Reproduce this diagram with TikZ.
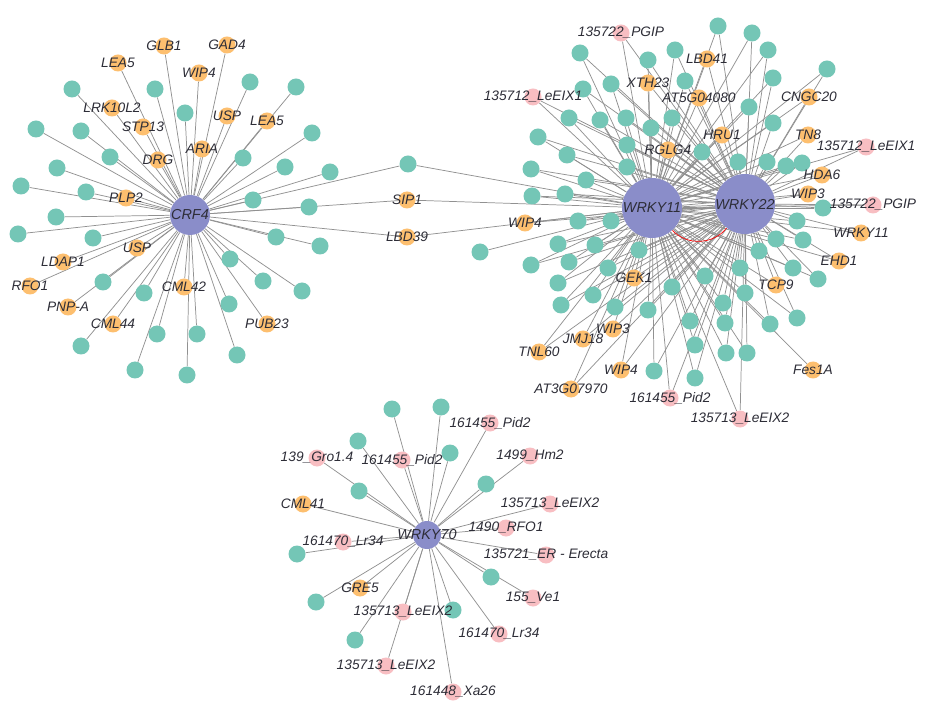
\documentclass[tikz,border=0pt]{standalone}
\usepackage{fontspec}
\setmainfont{Liberation Sans}
\usetikzlibrary{backgrounds}
\definecolor{tealc}{RGB}{116,198,182}
\definecolor{orangec}{RGB}{253,191,111}
\definecolor{pinkc}{RGB}{248,190,194}
\definecolor{hubc}{RGB}{138,141,201}
\definecolor{edgec}{RGB}{145,145,145}
\definecolor{textc}{RGB}{45,45,55}
\tikzset{
 dot/.style={circle, inner sep=0pt, minimum size=12.75pt, draw=none},
 tl/.style={dot, fill=tealc},
 og/.style={dot, fill=orangec},
 pk/.style={dot, fill=pinkc},
 hub/.style={circle, inner sep=0pt, draw=none, fill=hubc},
 lab/.style={text=textc, font=\fontsize{10.3}{12}\selectfont\itshape, inner sep=0pt},
 hublab/.style={text=textc, font=\fontsize{10.8}{12}\selectfont\itshape, inner sep=0pt},
 edge/.style={draw=edgec, line width=0.55pt},
}
\newcommand\lnode[4]{\node[#1,label={[lab]center:#4}] (#2) at (#3) {};}
\begin{document}
\begin{tikzpicture}[x=0.75pt,y=-0.75pt]
\useasboundingbox (0,0) rectangle (934,712);
% ---------- teal nodes ----------
\foreach \n/\x/\y in {c1/72/89,c2/155/89,c3/250/82,c4/296/87,c5/185/113,c6/36/129,c7/81/131,c8/312/133,c9/110/157,c10/243/158,c11/57/168,c12/285/167,c13/330/172,c14/21/186,c15/86/192,c16/253/200,c17/309/207,c18/56/217,c19/18/234,c20/93/238,c21/276/237,c22/320/246,c23/230/259,c24/103/282,c25/263/281,c26/302/291,c27/144/293,c28/229/304,c29/157/334,c30/197/334,c31/81/346,c32/237/355,c33/135/370,c34/187/375}
  \node[tl] (\n) at (\x,\y) {};
\node[tl] (ct) at (408,164) {};
\node[tl] (wl) at (480,252) {};
\foreach \n/\x/\y in {w1/580/53,w2/675/50,w3/648/60,w4/611/84,w5/685/81,w6/583/89,w7/718/26,w8/752/33,w9/768/50,w10/773/78,w11/827/69,w12/569/118,w13/600/120,w14/626/118,w15/672/118,w16/651/128,w17/538/137,w18/627/145,w19/567/155,w20/702/152,w21/531/169,w22/627/167,w23/586/180,w24/532/196,w25/565/194,w26/749/107,w27/773/123,w28/738/162,w29/767/162,w30/786/166,w31/802/163,w32/823/208,w33/797/221,w34/776/239,w35/803/240,w36/759/251,w37/793/268,w38/818/279,w39/740/268,w40/705/276,w41/745/293,w42/723/303,w43/797/318,w44/770/324,w45/690/321,w46/725/323,w47/695/345,w48/726/353,w49/747/353,w50/695/378,w51/578/221,w52/611/221,w53/558/244,w54/595/245,w55/531/265,w56/569/262,w57/608/268,w58/639/250,w59/558/283,w60/593/295,w61/561/305,w62/615/307,w63/648/310,w64/672/287,w65/654/371}
  \node[tl] (\n) at (\x,\y) {};
\foreach \n/\x/\y in {v1/392/409,v2/441/407,v3/358/441,v4/450/453,v5/359/491,v6/486/484,v7/297/554,v8/491/577,v9/316/602,v10/453/610,v11/355/640}
  \node[tl] (\n) at (\x,\y) {};
% ---------- labelled nodes, CRF4 cluster ----------
\lnode{og}{glb1}{164,46}{GLB1}
\lnode{og}{gad4}{227,45}{GAD4}
\lnode{og}{lea5a}{118,63}{LEA5}
\lnode{og}{wip4c}{199,73}{WIP4}
\lnode{og}{lrk}{112,108}{LRK10L2}
\lnode{og}{uspa}{227,116}{USP}
\lnode{og}{lea5b}{267,121}{LEA5}
\lnode{og}{stp13}{143,127}{STP13}
\lnode{og}{drg}{158,160}{DRG}
\lnode{og}{aria}{202,149}{ARIA}
\lnode{og}{plp2}{126,198}{PLP2}
\lnode{og}{uspb}{137,248}{USP}
\lnode{og}{ldap1}{63,262}{LDAP1}
\lnode{og}{rfo1}{30,286}{RFO1}
\lnode{og}{cml42}{184,287}{CML42}
\lnode{og}{pnpa}{68,307}{PNP-A}
\lnode{og}{cml44}{113,324}{CML44}
\lnode{og}{pub23}{267,324}{PUB23}
\lnode{og}{sip1}{407,200}{SIP1}
\lnode{og}{lbd39}{407,237}{LBD39}
% ---------- labelled nodes, WRKY11/22 cluster ----------
\lnode{pk}{pgipa}{621,33}{135722\_PGIP}
\lnode{og}{lbd41}{707,59}{LBD41}
\lnode{og}{xth23}{648,83}{XTH23}
\lnode{pk}{eix1a}{533,97}{135712\_LeEIX1}
\lnode{og}{at5g}{699,98}{AT5G04080}
\lnode{og}{cngc20}{809,97}{CNGC20}
\lnode{og}{hru1}{722,135}{HRU1}
\lnode{og}{tn8}{808,135}{TN8}
\lnode{pk}{eix1b}{866,147}{135712\_LeEIX1}
\lnode{og}{rglg4}{668,150}{RGLG4}
\lnode{og}{hda6}{822,175}{HDA6}
\lnode{og}{wip3a}{808,194}{WIP3}
\lnode{pk}{pgipb}{873,205}{135722\_PGIP}
\lnode{og}{wrky11o}{861,233}{WRKY11}
\lnode{og}{ehd1}{839,261}{EHD1}
\lnode{og}{tcp9}{776,285}{TCP9}
\lnode{og}{fes1a}{813,370}{Fes1A}
\lnode{pk}{eix2w}{740,419}{135713\_LeEIX2}
\lnode{pk}{pid2w}{670,398}{161455\_Pid2}
\lnode{og}{wip4b}{621,370}{WIP4}
\lnode{og}{at3g}{571,389}{AT3G07970}
\lnode{og}{tnl60}{539,352}{TNL60}
\lnode{og}{jmj18}{583,339}{JMJ18}
\lnode{og}{wip3b}{613,329}{WIP3}
\lnode{og}{gek1}{634,278}{GEK1}
\lnode{og}{wip4a}{525,223}{WIP4}
% ---------- labelled nodes, WRKY70 cluster ----------
\lnode{pk}{pid2a}{490,423}{161455\_Pid2}
\lnode{pk}{gro}{317,458}{139\_Gro1.4}
\lnode{pk}{pid2b}{402,460}{161455\_Pid2}
\lnode{pk}{hm2}{530,456}{1499\_Hm2}
\lnode{og}{cml41}{303,504}{CML41}
\lnode{pk}{eix2a}{550,504}{135713\_LeEIX2}
\lnode{pk}{rfo1v}{506,528}{1490\_RFO1}
\lnode{pk}{lr34a}{343,542}{161470\_Lr34}
\lnode{pk}{er}{546,555}{135721\_ER - Erecta}
\lnode{og}{gre5}{360,588}{GRE5}
\lnode{pk}{ve1}{533,598}{155\_Ve1}
\lnode{pk}{eix2b}{403,612}{135713\_LeEIX2}
\lnode{pk}{lr34b}{499,634}{161470\_Lr34}
\lnode{pk}{eix2c}{386,666}{135713\_LeEIX2}
\lnode{pk}{xa26}{453,692}{161448\_Xa26}
% ---------- hubs ----------
\node[hub, minimum size=30pt, label={[hublab]center:CRF4}] (crf4) at (190,215) {};
\node[hub, minimum size=45pt, label={[hublab]center:WRKY11}] (wrky11) at (652,208) {};
\node[hub, minimum size=45pt, label={[hublab]center:WRKY22}] (wrky22) at (745,204) {};
\node[hub, minimum size=21pt, label={[hublab]center:WRKY70}] (wrky70) at (427,535) {};
% ---------- edges ----------
\begin{scope}[on background layer]
\fill[white] (0,0) rectangle (934,712);
\foreach \n in {c1,c2,c3,c4,c5,c6,c7,c8,c9,c10,c11,c12,c13,c14,c15,c16,c17,c18,c19,c20,c21,c22,c23,c24,c25,c26,c27,c28,c29,c30,c31,c32,c33,c34,glb1,gad4,lea5a,wip4c,lrk,uspa,lea5b,stp13,drg,aria,plp2,uspb,ldap1,rfo1,cml42,pnpa,cml44,pub23,ct,sip1,lbd39}
  \draw[edge] (crf4) -- (\n);
\foreach \n in {ct,sip1,lbd39,wl,fes1a}
  \draw[edge] (wrky11) -- (\n);
\foreach \n in {w1,w2,w3,w4,w5,w6,w7,w8,w9,w10,w11,w12,w13,w14,w15,w16,w17,w18,w19,w20,w21,w22,w23,w24,w25,w26,w27,w28,w29,w30,w31,w32,w33,w34,w35,w36,w37,w38,w39,w40,w41,w42,w43,w44,w45,w46,w47,w48,w49,w50,w51,w52,w53,w54,w55,w56,w57,w58,w59,w60,w61,w62,w63,w64,w65,pgipa,lbd41,xth23,eix1a,at5g,cngc20,hru1,tn8,eix1b,rglg4,hda6,wip3a,pgipb,wrky11o,ehd1,tcp9,eix2w,pid2w,wip4b,at3g,tnl60,jmj18,wip3b,gek1,wip4a}
  {\draw[edge] (wrky11) -- (\n); \draw[edge] (wrky22) -- (\n);}
\draw[edge] (wrky11) -- (wrky22);
\draw[red, line width=0.5pt] (wrky11) to[bend right=50] (wrky22);
\foreach \n in {v1,v2,v3,v4,v5,v6,v7,v8,v9,v10,v11,pid2a,gro,pid2b,hm2,cml41,eix2a,rfo1v,lr34a,er,gre5,ve1,eix2b,lr34b,eix2c,xa26}
  \draw[edge] (wrky70) -- (\n);
\end{scope}
\end{tikzpicture}
\end{document}
